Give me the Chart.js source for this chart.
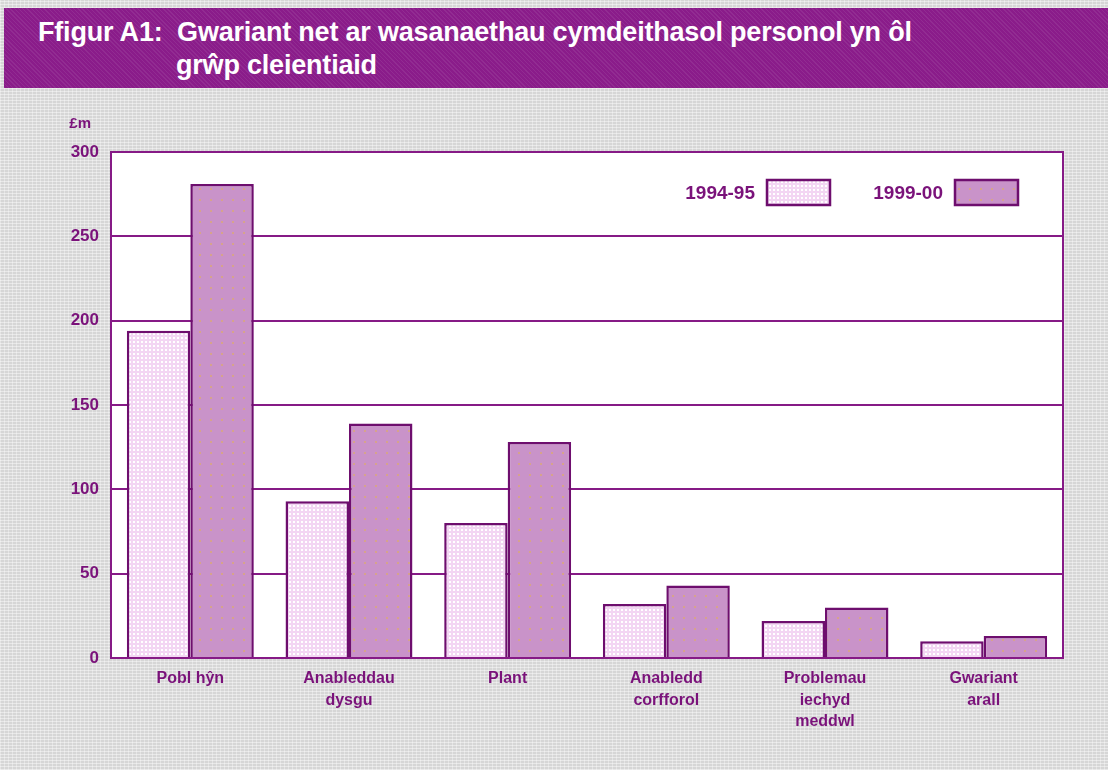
<!DOCTYPE html>
<html>
<head>
<meta charset="utf-8">
<script src="https://cdn.jsdelivr.net/npm/chart.js@4/dist/chart.umd.min.js"></script>
<style>
  html, body { margin: 0; padding: 0; }
  body {
    width: 1108px; height: 770px; overflow: hidden; position: relative;
    background-color: #d6d6d6;
    background-image:
      repeating-linear-gradient(0deg, rgba(255,255,255,0.45) 0 1px, transparent 1px 3px),
      repeating-linear-gradient(90deg, rgba(255,255,255,0.35) 0 1px, transparent 1px 4px);
    font-family: "Liberation Sans", Arial, sans-serif;
  }
  #title {
    position: absolute; left: 4px; top: 8px; width: 1104px; height: 80px;
    background-color: #8a1c8a;
    background-image: repeating-linear-gradient(45deg, rgba(255,255,255,0.07) 0 1px, transparent 1px 3px);
    color: #fff; font-weight: bold; font-size: 27px; line-height: 33px;
    box-sizing: border-box; padding: 8px 0 0 34px; letter-spacing: -0.2px;
  }
  #title .l2 { padding-left: 138px; }
  #wrap { position: absolute; left: 0; top: 88px; width: 1108px; height: 682px; }
</style>
</head>
<body>
<div id="title">Ffigur A1:&nbsp; Gwariant net ar wasanaethau cymdeithasol personol yn ôl<br><span class="l2">grŵp cleientiaid</span></div>
<div id="wrap"><canvas id="chart"></canvas></div>
<script>
// data (£m)
const categories = [
  ['Pobl hŷn'],
  ['Anableddau', 'dysgu'],
  ['Plant'],
  ['Anabledd', 'corfforol'],
  ['Problemau', 'iechyd', 'meddwl'],
  ['Gwariant', 'arall'],
];
const seriesNames = ['1994-95', '1999-00'];
const spend9495 = [194, 93, 80, 32, 22, 10];
const spend9900 = [281, 139, 128, 43, 30, 13];
const yTicks = [0, 50, 100, 150, 200, 250, 300];
const unitLabel = '£m';

const PURPLE = '#7a127a';
const LINE = '#861a86';
const FONT = '"Liberation Sans", Arial, sans-serif';

// small dotted fill like the printed original
function makePattern(base, dot, step, size) {
  const c = document.createElement('canvas');
  c.width = step; c.height = step;
  const g = c.getContext('2d');
  g.fillStyle = base;
  g.fillRect(0, 0, step, step);
  g.fillStyle = dot;
  g.fillRect(1, 1, size, size);
  return g.createPattern(c, 'repeat');
}

const ctx = document.getElementById('chart').getContext('2d');
const lightFill = makePattern('#f3d6f3', '#ffffff', 4, 2);
const darkFill = makePattern('#c993c9', '#d6a38c', 11, 2);

// white plot area + frame
const framePlugin = {
  id: 'frame',
  beforeDraw(chart) {
    const a = chart.chartArea, c = chart.ctx;
    c.save();
    c.fillStyle = '#ffffff';
    c.fillRect(a.left, a.top, a.right - a.left, a.bottom - a.top);
    c.restore();
  },
  beforeDatasetsDraw(chart) {
    const a = chart.chartArea, c = chart.ctx;
    c.save();
    c.strokeStyle = LINE;
    c.lineWidth = 2;
    c.strokeRect(a.left, a.top, a.right - a.left, a.bottom - a.top);
    c.restore();
  },
  afterDraw(chart) {
    const a = chart.chartArea, c = chart.ctx;
    c.save();
    c.font = 'bold 15px ' + FONT;
    c.fillStyle = PURPLE;
    c.textAlign = 'right';
    c.textBaseline = 'middle';
    c.fillText(unitLabel, a.left - 20, a.top - 28);
    c.restore();
  }
};

// legend inside the plot, label left of the swatch
const legendPlugin = {
  id: 'insideLegend',
  afterDatasetsDraw(chart) {
    const a = chart.chartArea, c = chart.ctx;
    const boxW = 63, boxH = 25, gap = 125;
    c.save();
    c.font = 'bold 19px ' + FONT;
    c.textAlign = 'right';
    c.textBaseline = 'middle';
    chart.data.datasets.forEach((ds, i) => {
      const x = a.right - 296 + i * (boxW + gap);
      const y = a.top + 28;
      c.fillStyle = ds.backgroundColor;
      c.fillRect(x, y, boxW, boxH);
      c.strokeStyle = ds.borderColor;
      c.lineWidth = 2.5;
      c.strokeRect(x, y, boxW, boxH);
      c.fillStyle = PURPLE;
      c.fillText(ds.label, x - 12, y + boxH / 2 + 1);
    });
    c.restore();
  }
};

new Chart(ctx, {
  type: 'bar',
  data: {
    labels: categories,
    datasets: [
      {
        label: seriesNames[0],
        data: spend9495,
        backgroundColor: lightFill,
        borderColor: '#6e0e6e',
        borderWidth: 2.5,
        borderSkipped: 'bottom',
      },
      {
        label: seriesNames[1],
        data: spend9900,
        backgroundColor: darkFill,
        borderColor: '#6e0e6e',
        borderWidth: 2.5,
        borderSkipped: 'bottom',
      }
    ]
  },
  options: {
    responsive: true,
    maintainAspectRatio: false,
    animation: false,
    layout: { padding: { top: 64, right: 45, left: 0, bottom: 0 } },
    datasets: { bar: { categoryPercentage: 0.8, barPercentage: 1.0 } },
    plugins: {
      legend: { display: false },
      tooltip: { enabled: false },
    },
    scales: {
      x: {
        grid: { display: false, drawTicks: false },
        border: { display: true, color: LINE, width: 2 },
        afterFit: s => { s.height = 112; },
        ticks: {
          color: PURPLE,
          font: { family: FONT, size: 16, weight: 'bold', lineHeight: 1.35 },
          padding: 10,
          maxRotation: 0,
        }
      },
      y: {
        min: 0,
        max: 300,
        afterFit: s => { s.width = 111; },
        afterBuildTicks: s => { s.ticks = yTicks.map(v => ({ value: v })); },
        grid: { color: LINE, lineWidth: 2, drawTicks: false },
        border: { display: true, color: LINE, width: 2 },
        ticks: {
          color: PURPLE,
          font: { family: FONT, size: 17, weight: 'bold' },
          padding: 12,
        }
      }
    }
  },
  plugins: [framePlugin, legendPlugin]
});
</script>
</body>
</html>
